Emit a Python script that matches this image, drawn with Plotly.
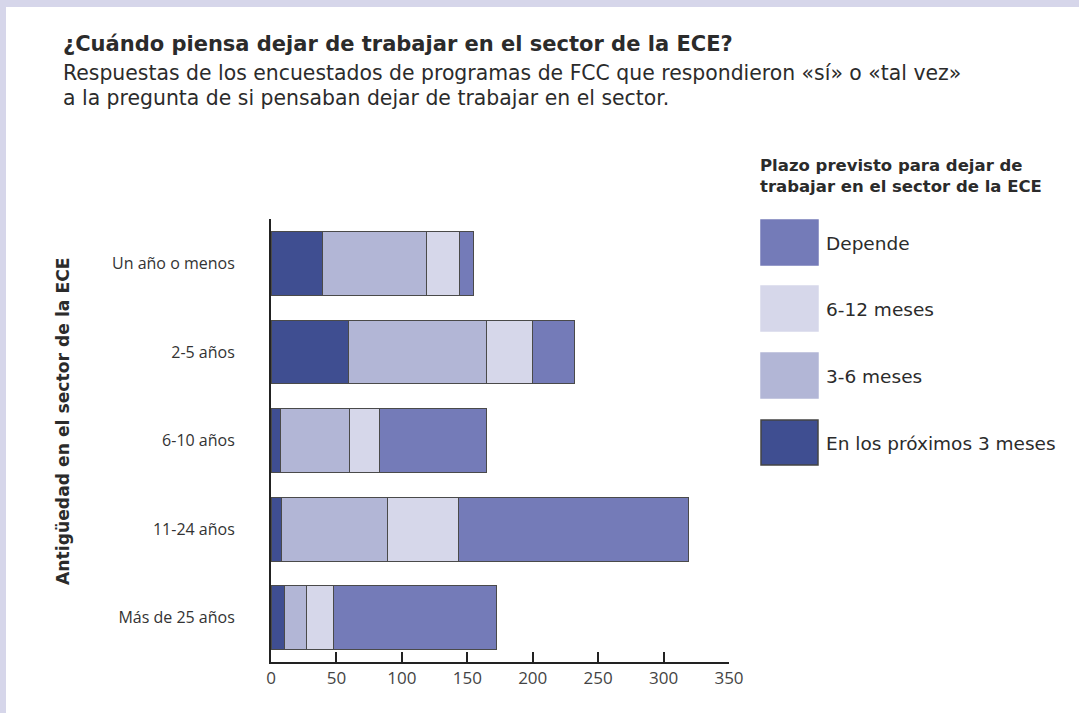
import plotly.graph_objects as go

categories = ["Un año o menos", "2-5 años", "6-10 años", "11-24 años", "Más de 25 años"]
series_names = ["En los próximos 3 meses", "3-6 meses", "6-12 meses", "Depende"]
next_3_months = [39, 59, 7, 8, 10]
months_3_6 = [80, 106, 53, 81, 17]
months_6_12 = [25, 35, 23, 54, 21]
depends = [11, 32, 82, 176, 124]
x_ticks = [0, 50, 100, 150, 200, 250, 300, 350]

colors = ["#3f4e91", "#b2b6d6", "#d6d7ea", "#747bb8"]
values = [next_3_months, months_3_6, months_6_12, depends]

W, H = 1079, 713
ML, MR, MT, MB = 271, 350, 219, 51
PW = W - ML - MR
PH = H - MT - MB

def px(x):
    return (x - ML) / PW

def py(y):
    return 1 - (y - MT) / PH

FONT = "Open Sans, Noto Sans, sans-serif"
WIDE = "DejaVu Sans, Open Sans, sans-serif"
TXT = "#2b2b2b"

fig = go.Figure()
for name, vals, col in zip(series_names, values, colors):
    fig.add_trace(go.Bar(
        y=categories, x=vals, name=name, orientation="h",
        marker=dict(color=col, line=dict(color="#4a4a4a", width=1)),
        showlegend=False,
    ))

shapes = [
    dict(type="rect", xref="paper", yref="paper", x0=px(0), x1=px(6), y0=py(0), y1=py(H),
         fillcolor="#d6d6ea", line=dict(width=0), layer="below"),
    dict(type="rect", xref="paper", yref="paper", x0=px(0), x1=px(W), y0=py(0), y1=py(7),
         fillcolor="#d6d6ea", line=dict(width=0), layer="below"),
]

annotations = [
    dict(text="<b>¿Cuándo piensa dejar de trabajar en el sector de la ECE?</b>",
         xref="paper", yref="paper", x=px(61), y=py(44), xanchor="left", yanchor="middle",
         showarrow=False, font=dict(family=WIDE, size=21, color=TXT)),
    dict(text="Respuestas de los encuestados de programas de FCC que respondieron «sí» o «tal vez»",
         xref="paper", yref="paper", x=px(61), y=py(73), xanchor="left", yanchor="middle",
         showarrow=False, font=dict(family=WIDE, size=20.4, color=TXT)),
    dict(text="a la pregunta de si pensaban dejar de trabajar en el sector.",
         xref="paper", yref="paper", x=px(61), y=py(98), xanchor="left", yanchor="middle",
         showarrow=False, font=dict(family=WIDE, size=20.4, color=TXT)),
    dict(text="<b>Antigüedad en el sector de la ECE</b>",
         xref="paper", yref="paper", x=px(63), y=py(421), xanchor="center", yanchor="middle",
         textangle=-90, showarrow=False, font=dict(family=WIDE, size=17.2, color=TXT)),
    dict(text="<b>Plazo previsto para dejar de<br>trabajar en el sector de la ECE</b>",
         xref="paper", yref="paper", x=px(758), y=py(176), xanchor="left", yanchor="middle",
         align="left", showarrow=False, font=dict(family=WIDE, size=16.5, color=TXT)),
]

legend_rows = [(3, 220), (2, 286), (1, 353), (0, 420)]
for idx, ytop in legend_rows:
    shapes.append(dict(type="rect", xref="paper", yref="paper",
                       x0=px(761), x1=px(818), y0=py(ytop + 45), y1=py(ytop),
                       fillcolor=colors[idx],
                       line=dict(color="#444444" if idx == 0 else colors[idx], width=1.5)))
    annotations.append(dict(text=series_names[idx], xref="paper", yref="paper",
                            x=px(824), y=py(ytop + 23), xanchor="left", yanchor="middle",
                            showarrow=False, font=dict(family=WIDE, size=18.5, color=TXT)))

fig.update_layout(
    width=W, height=H,
    margin=dict(l=ML, r=MR, t=MT, b=MB),
    paper_bgcolor="white", plot_bgcolor="white",
    barmode="stack", bargap=0.28,
    font=dict(family=FONT, size=16, color=TXT),
    shapes=shapes, annotations=annotations,
    xaxis=dict(range=[0, 350], tickvals=x_ticks, ticks="inside", ticklen=10, tickwidth=2,
               tickcolor="#222", showline=True, linecolor="#222", linewidth=2,
               showgrid=False, zeroline=False, tickfont=dict(size=17, color="#444")),
    yaxis=dict(categoryorder="array", categoryarray=categories[::-1],
               showline=True, linecolor="#222", linewidth=2, ticks="",
               showgrid=False, zeroline=False, ticklabelstandoff=31,
               tickfont=dict(size=16, color="#333")),
)

fig.write_html("out.html", config={"displayModeBar": False},
               post_script="document.body.style.margin='0';document.body.style.padding='0';")
